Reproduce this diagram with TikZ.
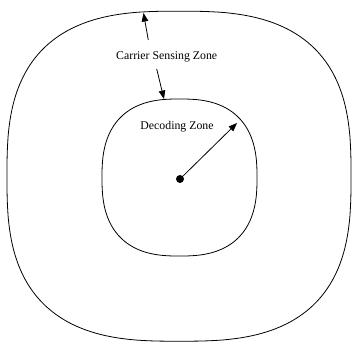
\documentclass[tikz,border=0pt]{standalone}
\usepackage{fontspec}
\setmainfont{Liberation Serif}
\usetikzlibrary{arrows.meta}
\begin{document}
\begin{tikzpicture}[x=1pt,y=-1pt,
  zone/.style={line width=0.8pt},
  lbl/.style={font=\fontsize{11.8}{14}\selectfont, inner sep=0pt},
  arr/.style={line width=0.8pt,-{Triangle[length=8.5pt,width=6.5pt]}}]
\useasboundingbox (0,0) rectangle (352,343);
% outer zone (superellipse)
\draw[zone] plot[domain=0.5:359.5,samples=360,smooth]
  ({179+172*sign(cos(\x))*abs(cos(\x))^(0.714)},
   {176.2+165*sign(sin(\x))*abs(sin(\x))^(0.714)}) -- cycle;
% inner zone
\draw[zone] plot[domain=0.5:359.5,samples=360,smooth]
  ({179.5+77.5*sign(cos(\x))*abs(cos(\x))^(0.78)},
   {177.5+78.5*sign(sin(\x))*abs(sin(\x))^(0.78)}) -- cycle;
\node[circle,fill=black,inner sep=0pt,minimum size=8pt] (src) at (180,179) {};
\node[lbl] (cs) at (166.7,57) {Carrier Sensing Zone};
\node[lbl] (dz) at (177,127) {Decoding Zone};
\coordinate (a1s) at (148.3,40);
\coordinate (a1e) at (143.5,13);
\coordinate (a2s) at (156.7,69);
\coordinate (a2e) at (164,99);
\coordinate (a3e) at (237,123);
\draw[arr] (a1s) -- (a1e);
\draw[arr] (a2s) -- (a2e);
\draw[arr] (src) -- (a3e);
\end{tikzpicture}
\end{document}
